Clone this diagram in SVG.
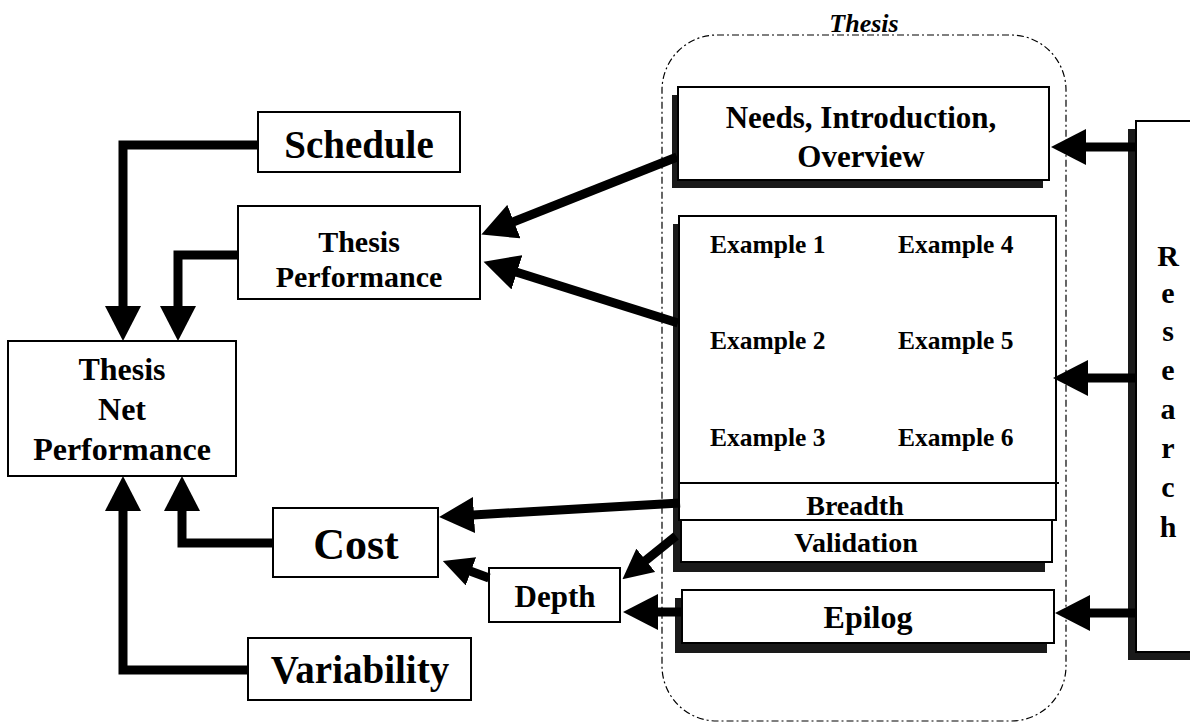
<svg xmlns="http://www.w3.org/2000/svg" width="1190" height="724" viewBox="0 0 1190 724">
<style>
  text { font-family: "Liberation Serif", "Times New Roman", serif; font-weight: bold; fill: #000; }
  .box { fill: #fff; stroke: #000; stroke-width: 2; }
  .shadow { fill: #1a1a1a; }
  .conn { fill: none; stroke: #000; stroke-width: 9; stroke-linejoin: miter; }
  .mid { text-anchor: middle; }
</style>
<defs>
  <marker id="ah" markerUnits="userSpaceOnUse" markerWidth="36" markerHeight="36" viewBox="0 0 36 36" refX="1" refY="18" orient="auto">
    <path d="M0,0 L35,18 L0,36 z" fill="#000"/>
  </marker>
  <marker id="ahs" markerUnits="userSpaceOnUse" markerWidth="30" markerHeight="30" viewBox="0 0 30 30" refX="1" refY="15" orient="auto">
    <path d="M0,0 L30,15 L0,30 z" fill="#000"/>
  </marker>
</defs>

<g id="thesis-container">
  <rect x="662" y="35" width="404" height="686" rx="55" ry="55" fill="none" stroke="#000" stroke-width="1.2" stroke-dasharray="7 3 2 3"/>
  <text x="864" y="32" class="mid" font-size="26" font-style="italic">Thesis</text>
</g>

<g id="schedule">
  <rect class="box" x="258" y="112" width="202" height="60"/>
  <text x="359" y="158" class="mid" font-size="39">Schedule</text>
</g>

<g id="thesis-performance">
  <rect class="box" x="238" y="206" width="242" height="93"/>
  <text x="359" y="252" class="mid" font-size="30">Thesis</text>
  <text x="359" y="287" class="mid" font-size="30">Performance</text>
</g>

<g id="thesis-net-performance">
  <rect class="box" x="8" y="341" width="228" height="135"/>
  <text x="122" y="380" class="mid" font-size="32">Thesis</text>
  <text x="122" y="420" class="mid" font-size="32">Net</text>
  <text x="122" y="460" class="mid" font-size="32">Performance</text>
</g>

<g id="cost">
  <rect class="box" x="273" y="508" width="165" height="69"/>
  <text x="356" y="559" class="mid" font-size="44">Cost</text>
</g>

<g id="variability">
  <rect class="box" x="248" y="638" width="223" height="62"/>
  <text x="360" y="683" class="mid" font-size="39">Variability</text>
</g>

<g id="depth">
  <rect class="box" x="489" y="568" width="131" height="54"/>
  <text x="555" y="607" class="mid" font-size="31">Depth</text>
</g>

<g id="needs">
  <rect class="shadow" x="672" y="95" width="371" height="93"/>
  <rect class="box" x="678" y="87" width="371" height="93"/>
  <text x="861" y="128" class="mid" font-size="31">Needs, Introduction,</text>
  <text x="861" y="167" class="mid" font-size="31">Overview</text>
</g>

<g id="examples">
  <rect class="shadow" x="673" y="224" width="372" height="348"/>
  <rect class="box" x="679" y="216" width="377" height="304"/>
  <line x1="679" y1="483" x2="1059" y2="483" stroke="#000" stroke-width="2"/>
  <text x="710" y="253" font-size="25.5">Example 1</text>
  <text x="898" y="253" font-size="25.5">Example 4</text>
  <text x="710" y="349" font-size="25.5">Example 2</text>
  <text x="898" y="349" font-size="25.5">Example 5</text>
  <text x="710" y="446" font-size="25.5">Example 3</text>
  <text x="898" y="446" font-size="25.5">Example 6</text>
  <text x="855" y="515" class="mid" font-size="28">Breadth</text>
</g>

<g id="validation">
  <rect class="box" x="681" y="520" width="371" height="42"/>
  <text x="856" y="552" class="mid" font-size="28">Validation</text>
</g>

<g id="epilog">
  <rect class="shadow" x="675" y="598" width="372" height="55"/>
  <rect class="box" x="682" y="590" width="372" height="53"/>
  <text x="868" y="628" class="mid" font-size="32">Epilog</text>
</g>

<g id="research">
  <rect class="shadow" x="1128" y="129" width="80" height="531"/>
  <rect class="box" x="1136" y="121" width="70" height="531"/>
  <text x="1168" y="266" class="mid" font-size="30">R</text>
  <text x="1168" y="303" class="mid" font-size="30">e</text>
  <text x="1168" y="341" class="mid" font-size="30">s</text>
  <text x="1168" y="380" class="mid" font-size="30">e</text>
  <text x="1168" y="419" class="mid" font-size="30">a</text>
  <text x="1168" y="458" class="mid" font-size="30">r</text>
  <text x="1168" y="497" class="mid" font-size="30">c</text>
  <text x="1168" y="537" class="mid" font-size="30">h</text>
</g>

<g id="connectors">
  <path class="conn" d="M258,145 H123 V307" marker-end="url(#ah)"/>
  <path class="conn" d="M238,255 H178 V307" marker-end="url(#ah)"/>
  <path class="conn" d="M273,543 H182 V510" marker-end="url(#ah)"/>
  <path class="conn" d="M248,670 H123 V510" marker-end="url(#ah)"/>
  <path class="conn" d="M677,157 L513,222" marker-end="url(#ah)"/>
  <path class="conn" d="M678,323 L516,272" marker-end="url(#ah)"/>
  <path class="conn" d="M680,503 L473,515" marker-end="url(#ah)"/>
  <path class="conn" d="M676,536 L645,561" marker-end="url(#ahs)"/>
  <path class="conn" d="M489,578 L470,571" marker-end="url(#ahs)"/>
  <path class="conn" d="M681,612 H657" marker-end="url(#ah)"/>
  <path class="conn" d="M1136,147 H1085" marker-end="url(#ah)"/>
  <path class="conn" d="M1136,378 H1087" marker-end="url(#ah)"/>
  <path class="conn" d="M1136,613 H1089" marker-end="url(#ah)"/>
</g>
</svg>
